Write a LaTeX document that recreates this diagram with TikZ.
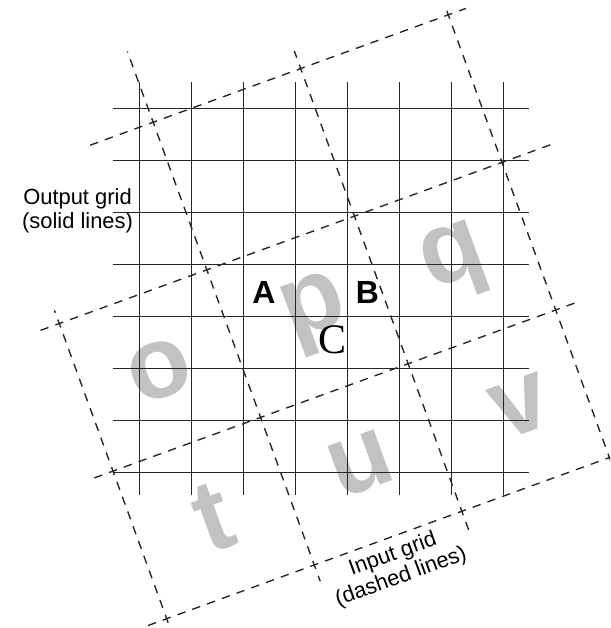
\documentclass[tikz,border=0pt]{standalone}
\usepackage{fontspec}
\setmainfont{Liberation Sans}
\newfontfamily\labelserif{Liberation Serif}

\tikzset{
  outputline/.style={black!85, line width=0.7pt},
  inputline/.style={black!85, line width=0.75pt, dash pattern=on 4.6pt off 3.993pt, dash phase=2.3pt},
  pixel/.style={text=black!24, font=\fontsize{56}{56}\selectfont\bfseries, rotate=20},
  gridlabel/.style={font=\fontsize{12}{13}\selectfont, align=center, inner sep=0pt},
  point/.style={font=\fontsize{17.5}{17.5}\selectfont\bfseries, inner sep=0pt}
}

\begin{document}
\begin{tikzpicture}
    \useasboundingbox (-2.679,-2.987) rectangle (9.052,9.090);
    \clip (-2.679,-2.987) rectangle (9.052,9.090);

    % Input grid (dashed, turned by 20 degrees)
    \begin{scope}[shift={(0.527,-2.808)}, rotate=20, x=3.02cm, y=3.02cm]
        % Input pixels
        \node[pixel] (o) at (0.5,1.5) {o};
        \node[pixel] (p) at (1.56,1.5) {p};
        \node[pixel] (q) at (2.5,1.5) {q};
        \node[pixel] (t) at (0.5,0.5) {t};
        \node[pixel] (u) at (1.5,0.5) {u};
        \node[pixel] (v) at (2.58,0.5) {v};

        % lines along the rows
        \foreach \b/\s/\e/\anc in {0/-0.15/3.4/0, 1/-0.16/3.17/0, 2/-0.13/3.33/0, 3/0.55/3.12/1} {
            \draw[inputline] (\anc,\b) -- (\e,\b);
            \draw[inputline] (\anc,\b) -- (\s,\b);
        }
        % lines along the columns
        \foreach \a/\s/\e/\anc in {0/-0.2/2.09/0, 1/-0.11/3.48/0, 2/-0.15/3.12/0, 3/-0.2/3.03/1} {
            \draw[inputline] (\a,\anc) -- (\a,\e);
            \draw[inputline] (\a,\anc) -- (\a,\s);
        }
    \end{scope}

    % Output grid (solid)
    \foreach \i in {0,...,7} {
        \draw[outputline] (\i,-0.43) -- (\i,7.52);
        \draw[outputline] (-0.5,\i) -- (7.49,\i);
    }

    % Labels
    \node[point] (A) at (2.398,3.456) {A};
    \node[point] (B) at (4.388,3.456) {B};
    \node[inner sep=0pt, font=\labelserif\fontsize{23}{23}\selectfont] (C) at (3.706,2.552) {C};
    \node[gridlabel, anchor=east] (outlabel) at (-0.115,5.04) {Output grid\\(solid lines)};
    \node[gridlabel, rotate=20] (inlabel) at (4.956,-1.794) {Input grid\\(dashed lines)};
\end{tikzpicture}
\end{document}
